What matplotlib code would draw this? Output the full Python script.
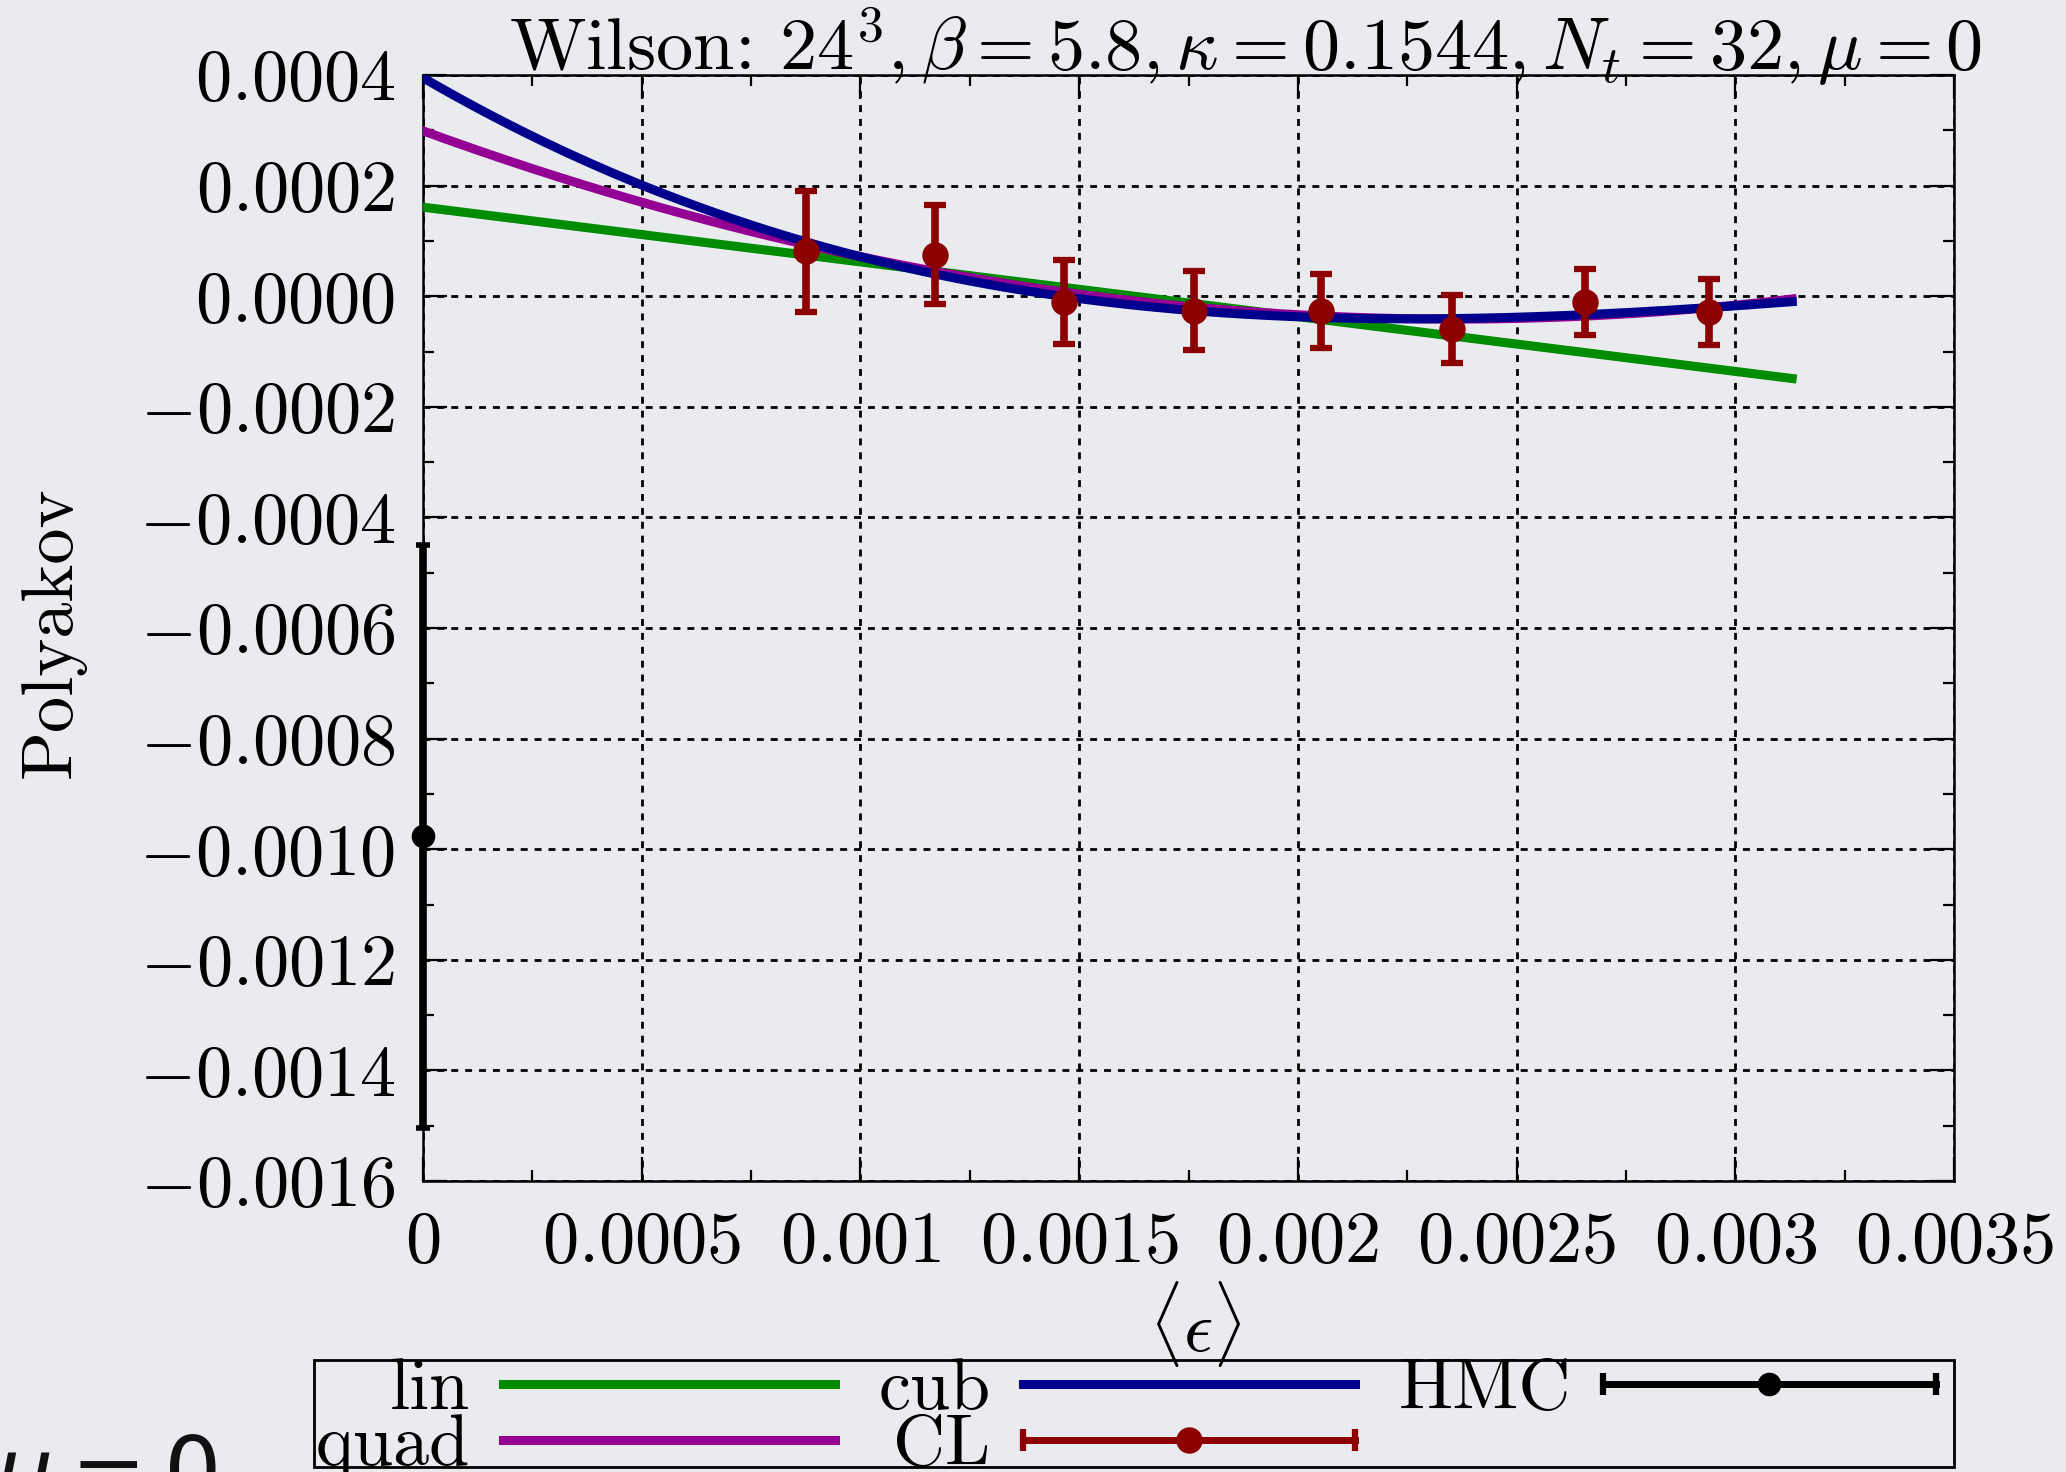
import numpy as np
import matplotlib
matplotlib.use('Agg')
import matplotlib.pyplot as plt
from matplotlib.lines import Line2D
from matplotlib.patches import Rectangle
from matplotlib.legend_handler import HandlerBase
from matplotlib.container import ErrorbarContainer
from matplotlib.ticker import MultipleLocator, FixedLocator

# ---------------- data ----------------
cl_x = [0.000875, 0.001171, 0.001466, 0.001762, 0.002054, 0.002352, 0.002656, 0.002940]
cl_y = [8.1e-5, 7.5e-5, -1.1e-5, -2.6e-5, -2.7e-5, -6.0e-5, -1.0e-5, -2.8e-5]
cl_err = [1.10e-4, 9.0e-5, 7.6e-5, 7.1e-5, 6.65e-5, 6.15e-5, 6.0e-5, 6.0e-5]

hmc_x = [0.0]
hmc_y = [-0.000977]
hmc_err = [0.000527]

# fit polynomials (highest power first), drawn on [0, fit_xmax]
lin_coef = [-0.099, 1.61e-4]
quad_coef = [61.17, -0.2886, 2.99e-4]
cub_coef = [-14380.0, 150.55, -0.4597, 3.95e-4]
fit_xmax = 0.00313

x_ticks = [0, 0.0005, 0.001, 0.0015, 0.002, 0.0025, 0.003, 0.0035]
x_ticklabels = ['0', '0.0005', '0.001', '0.0015', '0.002', '0.0025', '0.003', '0.0035']
y_ticks = [0.0004, 0.0002, 0.0, -0.0002, -0.0004, -0.0006, -0.0008, -0.0010,
           -0.0012, -0.0014, -0.0016]
y_ticklabels = ['0.0004', '0.0002', '0.0000', '-0.0002', '-0.0004', '-0.0006',
                '-0.0008', '-0.0010', '-0.0012', '-0.0014', '-0.0016']

legend_labels = ['lin', 'quad', 'cub', 'CL', 'HMC']
title = r'Wilson: $24^3, \beta = 5.8, \kappa = 0.1544, N_t = 32, \mu = 0$'

# ---------------- style ----------------
BG = '#eaebee'
GREEN = '#008c00'
PURPLE = '#940094'
BLUE = '#00008c'
RED = '#8c0000'
FS = 52

plt.rcParams['font.family'] = ['cmr10', 'DejaVu Serif']
plt.rcParams['mathtext.fontset'] = 'cm'
plt.rcParams['axes.formatter.use_mathtext'] = True

W, H = 2066, 1472
fig = plt.figure(figsize=(W / 100, H / 100), dpi=100, facecolor=BG)
L, R, T, B = 423, 1954, 75, 1181
ax = fig.add_axes([L / W, 1 - B / H, (R - L) / W, (B - T) / H])
ax.set_facecolor(BG)

xf = np.linspace(0, fit_xmax, 400)
l_lin, = ax.plot(xf, np.polyval(lin_coef, xf), color=GREEN, lw=6.5, zorder=3)
l_quad, = ax.plot(xf, np.polyval(quad_coef, xf), color=PURPLE, lw=6.5, zorder=3.1)
l_cub, = ax.plot(xf, np.polyval(cub_coef, xf), color=BLUE, lw=6.5, zorder=3.2)

cl = ax.errorbar(cl_x, cl_y, yerr=cl_err, fmt='o', color=RED, ms=18,
                 elinewidth=5.5, capsize=8, capthick=4.5, zorder=5)
hmc = ax.errorbar(hmc_x, hmc_y, yerr=hmc_err, fmt='o', color='black', ms=16,
                  elinewidth=5.5, capsize=5, capthick=4, zorder=5)
for art in hmc.get_children():
    art.set_clip_on(False)

ax.set_xlim(0, 0.0035)
ax.set_ylim(-0.0016, 0.0004)
ax.xaxis.set_major_locator(FixedLocator(x_ticks))
ax.set_xticklabels(['$' + s + '$' for s in x_ticklabels])
ax.yaxis.set_major_locator(FixedLocator(y_ticks))
ax.set_yticklabels(['$' + s + '$' for s in y_ticklabels])
ax.xaxis.set_minor_locator(MultipleLocator(0.00025))
ax.yaxis.set_minor_locator(MultipleLocator(0.0001))
ax.tick_params(which='both', direction='in', top=True, right=True, width=1.6,
               colors='black', labelsize=FS)
ax.tick_params(which='major', length=17)
ax.tick_params(which='minor', length=8)
ax.tick_params(axis='x', pad=22)
ax.tick_params(axis='y', pad=20)
for sp in ax.spines.values():
    sp.set_linewidth(1.8)
ax.grid(True, which='major', color='black', linestyle=(0, (2.5, 2.5)), linewidth=2)

fig.text(1245 / W, 1 - 70 / H, title, ha='center', va='baseline', fontsize=53.5)
fig.text(53 / W, 1 - 632 / H, 'Polyakov', rotation=90, ha='center', va='center',
         fontsize=FS)
fig.text(1195 / W, 1 - 1324 / H, r'$\langle\epsilon\rangle$', ha='center',
         va='center', fontsize=FS)
fig.text(-0.003, -0.0204, r'$\mu = 0$', fontsize=65, math_fontfamily='dejavusans',
         va='baseline', ha='left', color='#111111')


class HandlerGnuErr(HandlerBase):
    def create_artists(self, legend, orig_handle, xdescent, ydescent, width,
                       height, fontsize, trans):
        col = orig_handle[0].get_color()
        ms = orig_handle[0].get_markersize()
        y = (height - ydescent) / 2
        x0, x1 = -xdescent, width - xdescent
        line = Line2D([x0, x1], [y, y], color=col, lw=5)
        caps = Line2D([x0, x1], [y, y], ls='none', marker='|', ms=16, mew=4.5,
                      color=col)
        dot = Line2D([(x0 + x1) / 2], [y], ls='none', marker='o', ms=ms, color=col)
        for a in (line, caps, dot):
            a.set_transform(trans)
        return [line, caps, dot]


handles = [l_lin, l_quad, l_cub, cl, hmc]
leg = fig.legend(handles, legend_labels, loc='upper left',
                 bbox_to_anchor=(316 / W, 1 - 1358 / H), ncol=3, markerfirst=False,
                 fontsize=FS, handlelength=4.6, handletextpad=0.45,
                 columnspacing=0.6, labelspacing=-0.12, borderpad=0.0,
                 borderaxespad=0, frameon=False,
                 handler_map={ErrorbarContainer: HandlerGnuErr()})

# legend frame box (gnuplot-style, text may overflow it)
fig.add_artist(Rectangle((314 / W, 1 - 1467 / H), 1640 / W, 107 / H,
                         transform=fig.transFigure, fill=False, ec='black', lw=2,
                         zorder=1))

fig.savefig('out.png', dpi=100, facecolor=BG)
